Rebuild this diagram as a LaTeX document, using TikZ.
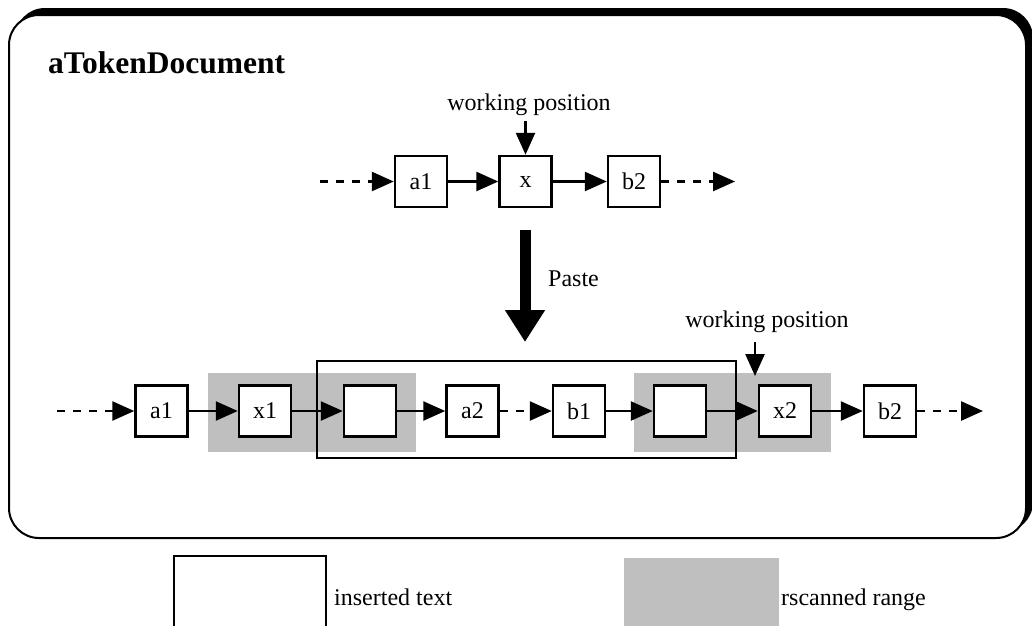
\documentclass[tikz,border=0pt]{standalone}
\usepackage{fontspec}
\setmainfont{Liberation Serif}
\usetikzlibrary{arrows.meta}
\definecolor{scanfill}{RGB}{191,191,191}

\begin{document}
\begin{tikzpicture}[x=1pt, y=-1pt,
  txt/.style={font=\fontsize{24}{28}\selectfont, inner sep=0pt},
  tok/.style={txt, draw, fill=white, line width=2.5pt,
              minimum width=52pt, minimum height=51pt},
  link/.style={line width=2.6pt, -{Triangle[length=22pt, width=19pt]}},
  dlink/.style={link, dash pattern=on 8pt off 8pt},
  scanrange/.style={fill=scanfill},
  insertbox/.style={draw, line width=2pt}]

\useasboundingbox (0,0) rectangle (1032,625);
\clip (0,0) rectangle (1032,625);

% document frame with its drop shadow
\fill[rounded corners=30pt] (15,8) rectangle (1033,532);
\draw[fill=white, line width=2pt, rounded corners=30pt] (9,15) rectangle (1026,538);

\node[anchor=base west, font=\bfseries\fontsize{31.5}{36}\selectfont, inner sep=0pt]
  (title) at (48,73) {aTokenDocument};

% token list before pasting
\node[tok] (ta1) at (421,181.5) {a1};
\node[tok] (tx)  at (525.5,181.5) {x};
\node[tok] (tb2) at (634,181.5) {b2};
\coordinate (tin)  at (320,181.5);
\coordinate (tout) at (735,181.5);
\draw[dlink] (tin) -- (ta1);
\draw[link] (ta1) -- (tx);
\draw[link] (tx) -- (tb2);
\draw[dlink] (tb2) -- (tout);

\node[txt, anchor=base] (wp1) at (529,110) {working position};
\coordinate (wp1tail) at (525.5,121);
\draw[link] (wp1tail) -- (tx.north);

% paste step
\coordinate (pstart) at (525,230);
\coordinate (pend)   at (525,342);
\draw[line width=11pt, -{Triangle[length=32pt, width=38pt]}] (pstart) -- (pend);
\node[txt, anchor=base west] (paste) at (548,286) {Paste};

% token list after pasting
\fill[scanrange] (208,373) rectangle (416,452);
\fill[scanrange] (634,373) rectangle (831,452);
\draw[insertbox] (317,361) rectangle (736,458);

\node[tok] (ba1) at (161.5,411) {a1};
\node[tok] (bx1) at (265,411) {x1};
\node[tok] (bn1) at (370,411) {};
\node[tok] (ba2) at (472.5,411) {a2};
\node[tok] (bb1) at (579,411) {b1};
\node[tok] (bn2) at (680,411) {};
\node[tok] (bx2) at (785,411) {x2};
\node[tok] (bb2) at (890,411) {b2};
\coordinate (bin)  at (57,411);
\coordinate (bout) at (983,411);
\draw[dlink] (bin) -- (ba1);
\draw[link] (ba1) -- (bx1);
\draw[link] (bx1) -- (bn1);
\draw[link] (bn1) -- (ba2);
\draw[dlink] (ba2) -- (bb1);
\draw[link] (bb1) -- (bn2);
\draw[link] (bn2) -- (bx2);
\draw[link] (bx2) -- (bb2);
\draw[dlink] (bb2) -- (bout);

\node[txt, anchor=base] (wp2) at (767,327) {working position};
\coordinate (wp2tail) at (755,342);
\coordinate (wp2head) at (755,376);
\draw[link] (wp2tail) -- (wp2head);

% legend
\draw[insertbox, line width=2.5pt] (174,556) rectangle (326,640);
\node[txt, anchor=base west] (legins) at (334,605) {inserted text};
\fill[scanrange] (624,558) rectangle (779,640);
\node[txt, anchor=base west] (legscan) at (781,605) {rscanned range};
\end{tikzpicture}
\end{document}
